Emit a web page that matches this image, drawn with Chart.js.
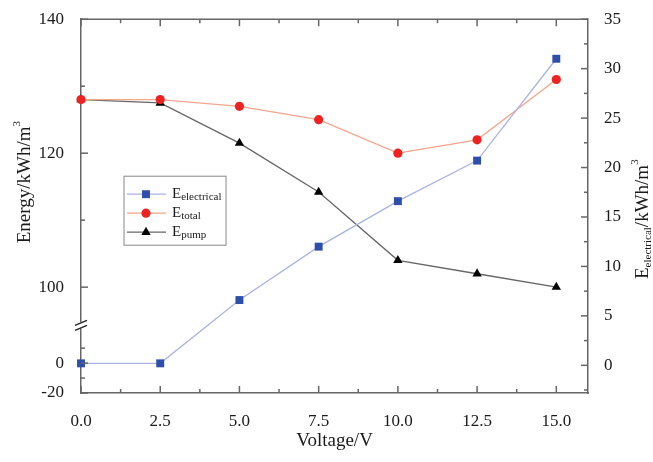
<!DOCTYPE html>
<html>
<head>
<meta charset="utf-8">
<script src="https://cdn.jsdelivr.net/npm/chart.js@4"></script>
<style>
  body { margin: 0; background: #fff; }
  canvas { display: block; }
</style>
</head>
<body>
<canvas id="energyChart" width="653" height="462"></canvas>
<script>
// Data
const voltage = [0, 2.5, 5, 7.5, 10, 12.5, 15];
const eElectrical = [0.2, 0.2, 6.6, 12, 16.6, 20.7, 31];
const eTotal = [128, 128, 127, 125, 120, 122, 131];
const ePump = [128, 127.5, 121.5, 114.2, 104, 102, 100];

// Tick labels
const xTicks = [0, 2.5, 5, 7.5, 10, 12.5, 15];
const xMinorTicks = [1.25, 3.75, 6.25, 8.75, 11.25, 13.75];
const leftTicks = [140, 120, 100, 0, -20];
const leftMinorTicks = [130, 110, 10, -10];
const rightTicks = [0, 5, 10, 15, 20, 25, 30, 35];
const rightMinorTicks = [-2.5, 2.5, 7.5, 12.5, 17.5, 22.5, 27.5, 32.5];

// Left axis is broken between 100 and 0: the lower part is squeezed
const BREAK_ZERO = 88.66;
const LOW_SCALE = 0.223;
const BREAK_MARK = 94.3;
function toLeftAxis(v) {
  return v >= 100 ? v : BREAK_ZERO + v * LOW_SCALE;
}

const FONT = "'Liberation Serif', 'DejaVu Serif', serif";
const TEXT = "#1a1a1a";
const AXIS = "#666";

const series = [
  { main: "E", sub: "electrical", data: eElectrical, axis: "y1", line: "#aab3e4", mark: "#2d4ea9", style: "rect", radius: 5.6 },
  { main: "E", sub: "total", data: eTotal, axis: "y", line: "#f4a58e", mark: "#ee2222", style: "circle", radius: 4.6 },
  { main: "E", sub: "pump", data: ePump, axis: "y", line: "#666666", mark: "#000000", style: "triangle", radius: 5.4 },
];

// draw text with sub/superscripts, centred at (x, y)
function drawRich(ctx, parts, x, y, rotate) {
  ctx.save();
  ctx.translate(x, y);
  if (rotate) ctx.rotate(-Math.PI / 2);
  let total = 0;
  parts.forEach((p) => {
    ctx.font = p.size + "px " + FONT;
    p.w = ctx.measureText(p.t).width;
    total += p.w;
  });
  let cx = -total / 2;
  ctx.fillStyle = TEXT;
  ctx.textBaseline = "middle";
  ctx.textAlign = "left";
  parts.forEach((p) => {
    ctx.font = p.size + "px " + FONT;
    ctx.fillText(p.t, cx, p.dy || 0);
    cx += p.w;
  });
  ctx.restore();
}

function pointOpts(s) {
  return { pointStyle: s.style, radius: s.radius, rotation: 0, borderWidth: 0 };
}

const framePlugin = {
  id: "frame",
  afterDraw(chart) {
    const ctx = chart.ctx;
    const area = chart.chartArea;
    const xs = chart.scales.x, yl = chart.scales.y, yr = chart.scales.y1;
    ctx.save();
    ctx.strokeStyle = AXIS;
    ctx.lineWidth = 1.5;

    // top border
    ctx.beginPath();
    ctx.moveTo(area.left, area.top);
    ctx.lineTo(area.right, area.top);
    ctx.stroke();

    // inward ticks
    const tick = (x1, y1, x2, y2) => {
      ctx.beginPath();
      ctx.moveTo(x1, y1);
      ctx.lineTo(x2, y2);
      ctx.stroke();
    };
    xTicks.forEach((v) => {
      const px = xs.getPixelForValue(v);
      tick(px, area.bottom, px, area.bottom - 7);
      tick(px, area.top, px, area.top + 7);
    });
    xMinorTicks.forEach((v) => {
      const px = xs.getPixelForValue(v);
      tick(px, area.bottom, px, area.bottom - 4);
      tick(px, area.top, px, area.top + 4);
    });
    leftTicks.forEach((v) => {
      const py = yl.getPixelForValue(toLeftAxis(v));
      tick(area.left, py, area.left + 7, py);
    });
    leftMinorTicks.forEach((v) => {
      const py = yl.getPixelForValue(toLeftAxis(v));
      tick(area.left, py, area.left + 4, py);
    });
    rightTicks.forEach((v) => {
      const py = yr.getPixelForValue(v);
      tick(area.right, py, area.right - 7, py);
    });
    rightMinorTicks.forEach((v) => {
      const py = yr.getPixelForValue(v);
      tick(area.right, py, area.right - 4, py);
    });

    // break mark on the left axis
    const by = yl.getPixelForValue(BREAK_MARK);
    ctx.fillStyle = "#fff";
    ctx.fillRect(area.left - 3, by - 3, 6, 6);
    ctx.strokeStyle = "#222";
    ctx.lineWidth = 1.3;
    tick(area.left - 6, by, area.left + 6, by - 5);
    tick(area.left - 6, by + 5, area.left + 6, by);
    ctx.restore();

    // axis titles
    drawRich(ctx, [
      { t: "Energy/kWh/m", size: 19 },
      { t: "3", size: 11, dy: -8 },
    ], area.left - 56, area.top + 163, true);
    drawRich(ctx, [
      { t: "E", size: 19 },
      { t: "electrical", size: 11, dy: 5 },
      { t: "/kWh/m", size: 19 },
      { t: "3", size: 11, dy: -8 },
    ], area.right + 55, area.top + 200, true);
    drawRich(ctx, [{ t: "Voltage/V", size: 19 }], (area.left + area.right) / 2, area.bottom + 48, false);

    // legend box
    const lx = area.left + 43, ly = area.top + 157, lw = 102, lh = 69;
    ctx.save();
    ctx.fillStyle = "#fff";
    ctx.fillRect(lx, ly, lw, lh);
    ctx.strokeStyle = "#888";
    ctx.lineWidth = 1;
    ctx.strokeRect(lx, ly, lw, lh);
    series.forEach((s, i) => {
      const ry = ly + 18 + i * 19;
      ctx.strokeStyle = s.line;
      ctx.lineWidth = 1.3;
      ctx.beginPath();
      ctx.moveTo(lx + 3, ry);
      ctx.lineTo(lx + 42, ry);
      ctx.stroke();
      ctx.fillStyle = s.mark;
      Chart.helpers.drawPoint(ctx, pointOpts(s), lx + 22, ry);
      ctx.font = "15px " + FONT;
      ctx.fillStyle = TEXT;
      ctx.textBaseline = "middle";
      ctx.textAlign = "left";
      ctx.fillText(s.main, lx + 48, ry);
      const w = ctx.measureText(s.main).width;
      ctx.font = "11px " + FONT;
      ctx.fillText(s.sub, lx + 48 + w, ry + 3);
    });
    ctx.restore();
  },
};

const ctxEnergy = document.getElementById("energyChart").getContext("2d");
const energyChart = new Chart(ctxEnergy, {
  type: "line",
  data: {
    datasets: series.map((s) => ({
      label: s.main + s.sub,
      data: voltage.map((v, i) => ({ x: v, y: s.axis === "y" ? toLeftAxis(s.data[i]) : s.data[i] })),
      yAxisID: s.axis,
      borderColor: s.line,
      borderWidth: 1.3,
      backgroundColor: s.mark,
      pointBackgroundColor: s.mark,
      pointBorderColor: s.mark,
      pointBorderWidth: 0,
      pointStyle: s.style,
      pointRadius: s.radius,
      tension: 0,
      clip: false,
    })),
  },
  options: {
    responsive: false,
    animation: false,
    layout: { padding: { top: 18, left: 0, right: 0, bottom: 0 } },
    plugins: {
      legend: { display: false },
      tooltip: { enabled: false },
    },
    scales: {
      x: {
        type: "linear",
        min: 0,
        max: 16,
        afterBuildTicks: (s) => { s.ticks = xTicks.map((v) => ({ value: v })); },
        afterFit: (s) => { s.height = 69; },
        ticks: {
          callback: (v) => Number(v).toFixed(1),
          font: { family: FONT, size: 17 },
          color: TEXT,
          padding: 10,
          maxRotation: 0,
          autoSkip: false,
        },
        grid: { display: false },
        border: { color: AXIS, width: 1.5 },
      },
      y: {
        position: "left",
        min: 84.2,
        max: 140,
        afterBuildTicks: (s) => { s.ticks = leftTicks.map((v) => ({ value: toLeftAxis(v) })); },
        afterFit: (s) => { s.width = 81; },
        ticks: {
          callback: (v, i) => String(leftTicks[i]),
          font: { family: FONT, size: 17 },
          color: TEXT,
          padding: 9,
          autoSkip: false,
        },
        grid: { display: false },
        border: { color: AXIS, width: 1.5 },
      },
      y1: {
        position: "right",
        min: -2.8,
        max: 35,
        afterBuildTicks: (s) => { s.ticks = rightTicks.map((v) => ({ value: v })); },
        afterFit: (s) => { s.width = 65; },
        ticks: {
          font: { family: FONT, size: 17 },
          color: TEXT,
          padding: 8,
          autoSkip: false,
        },
        grid: { display: false },
        border: { color: AXIS, width: 1.5 },
      },
    },
  },
  plugins: [framePlugin],
});
</script>
</body>
</html>
